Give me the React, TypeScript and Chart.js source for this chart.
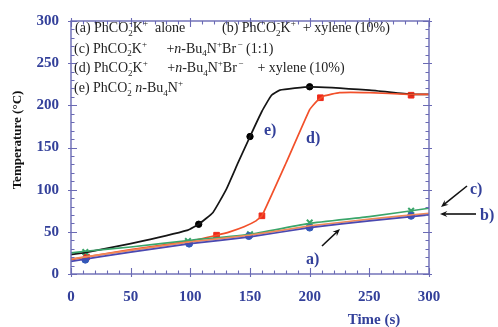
import React, { useEffect, useRef } from "react";
import { Chart, registerables } from "chart.js";

Chart.register(...registerables);

// ---- data ----
const xTicks = [0, 50, 100, 150, 200, 250, 300];
const yTicks = [0, 50, 100, 150, 200, 250, 300];

// (a) PhCO2-K+ alone (blue)
const aTime = [0, 50, 100, 150, 200, 250, 300];
const aTemp = [15, 26, 36, 44, 55, 63, 70];
const aMarkTime = [12, 99, 149, 200, 285];
const aMarkTemp = [17, 36, 45, 55, 69];

// (b) PhCO2-K+ + xylene (orange)
const bTime = [0, 50, 100, 150, 200, 250, 300];
const bTemp = [18, 28, 38, 46, 57, 65, 72];

// (c) + n-Bu4N+Br- (green)
const cTime = [0, 12, 50, 100, 150, 200, 250, 300];
const cTemp = [25, 27, 32, 40, 47, 60, 68, 78];
const cMarkTime = [12, 98, 150, 200, 285];
const cMarkTemp = [26, 39, 47, 61, 75];

// (d) + n-Bu4N+Br- + xylene (red)
const dTime = [0, 12, 50, 100, 122, 133, 145, 155, 160, 180, 200, 206, 212, 225, 250, 283, 300];
const dTemp = [17, 20, 29, 39, 46, 50, 56, 63, 69, 131, 195, 205, 211, 215, 215, 213, 213];
const dMarkTime = [13, 122, 160, 209, 285];
const dMarkTemp = [20, 46, 69, 209, 212];

// (e) PhCO2- n-Bu4N+ (black)
const eTime = [0, 14, 50, 98, 107, 119, 130, 140, 150, 160, 168, 175, 200, 250, 285, 300];
const eTemp = [23, 26, 36, 52, 59, 73, 100, 132, 163, 193, 212, 218, 222, 218, 213, 213];
const eMarkTime = [107, 150, 200];
const eMarkTemp = [59, 163, 222];

const pts = (xs: number[], ys: number[]) => xs.map((x, i) => ({ x, y: ys[i] }));

const FRAME = "#6a6ab4";
const LABEL = "#33409a";
const FONT = '"Liberation Serif", serif';

type Run = { t?: string; it?: boolean; sub?: string; sup?: string; gap?: number };

function drawRich(ctx: CanvasRenderingContext2D, x: number, y: number, runs: Run[], size: number) {
  let cx = x;
  const small = Math.round(size * 0.64);
  for (const r of runs) {
    if (r.gap) { cx += r.gap; continue; }
    if (r.t !== undefined) {
      ctx.font = `${r.it ? "italic " : ""}${size}px ${FONT}`;
      ctx.fillText(r.t, cx, y);
      cx += ctx.measureText(r.t).width;
      continue;
    }
    ctx.font = `${small}px ${FONT}`;
    let w = 0;
    if (r.sub) {
      ctx.fillText(r.sub, cx, y + size * 0.25);
      w = Math.max(w, ctx.measureText(r.sub).width);
    }
    if (r.sup) {
      const sx = r.sub ? cx + 1 : cx;
      ctx.fillText(r.sup, sx, y - size * 0.4);
      w = Math.max(w, ctx.measureText(r.sup).width + (r.sub ? 1 : 0));
    }
    cx += w;
  }
}

const CO2K: Run[] = [{ t: "PhCO" }, { sub: "2", sup: "-" }, { t: "K" }, { sup: "+" }];
const BU4: Run[] = [{ t: "+" }, { t: "n", it: true }, { t: "-Bu" }, { sub: "4" }, { t: "N" }, { sup: "+" }, { t: "Br" }, { gap: 1.5 }, { sup: "\u2212" }];

const legendLines: { x: number; y: number; runs: Run[] }[] = [
  { x: 75, y: 32, runs: [{ t: "(a) " }, ...CO2K, { t: "  alone" }] },
  { x: 222, y: 32, runs: [{ t: "(b) " }, ...CO2K, { t: "  + xylene (10%)" }] },
  { x: 74, y: 52.5, runs: [{ t: "(c) " }, ...CO2K, { t: "   " }, { gap: 9 }, ...BU4, { t: " (1:1)" }] },
  { x: 74, y: 72, runs: [{ t: "(d) " }, ...CO2K, { t: "   " }, { gap: 9 }, ...BU4, { t: "    + xylene (10%)" }] },
  { x: 74, y: 92, runs: [{ t: "(e) " }, { t: "PhCO" }, { sub: "2", sup: "-" }, { t: " " }, { t: "n", it: true }, { t: "-Bu" }, { sub: "4" }, { t: "N" }, { sup: "+" }] },
];

function arrow(ctx: CanvasRenderingContext2D, x1: number, y1: number, x2: number, y2: number) {
  const ang = Math.atan2(y2 - y1, x2 - x1);
  const hl = 8;
  ctx.strokeStyle = "#111";
  ctx.fillStyle = "#111";
  ctx.lineWidth = 1.6;
  ctx.beginPath();
  ctx.moveTo(x1, y1);
  ctx.lineTo(x2 - Math.cos(ang) * 4, y2 - Math.sin(ang) * 4);
  ctx.stroke();
  ctx.beginPath();
  ctx.moveTo(x2, y2);
  ctx.lineTo(x2 - hl * Math.cos(ang - 0.4), y2 - hl * Math.sin(ang - 0.4));
  ctx.lineTo(x2 - hl * 0.6 * Math.cos(ang), y2 - hl * 0.6 * Math.sin(ang));
  ctx.lineTo(x2 - hl * Math.cos(ang + 0.4), y2 - hl * Math.sin(ang + 0.4));
  ctx.closePath();
  ctx.fill();
}

const decor = {
  id: "decor",
  afterDraw(chart: any) {
    const ctx: CanvasRenderingContext2D = chart.ctx;
    const { left, right, top, bottom } = chart.chartArea;
    const xs = chart.scales.x;
    const ys = chart.scales.y;
    ctx.save();
    // frame
    ctx.strokeStyle = FRAME;
    ctx.lineWidth = 1.4;
    ctx.strokeRect(left, top, right - left, bottom - top);
    // ticks
    ctx.lineWidth = 1.1;
    ctx.beginPath();
    for (let v = 0; v <= 300; v += 10) {
      const major = v % 50 === 0;
      const L = major ? 6 : 3.5;
      const px = Math.round(xs.getPixelForValue(v)) + 0.5;
      ctx.moveTo(px, bottom + (major ? 3 : 0));
      ctx.lineTo(px, bottom - L);
      ctx.moveTo(px, top - (major ? 3 : 0));
      ctx.lineTo(px, top + L);
      const py = Math.round(ys.getPixelForValue(v)) + 0.5;
      ctx.moveTo(left - (major ? 3 : 0), py);
      ctx.lineTo(left + L, py);
      ctx.moveTo(right + (major ? 3 : 0), py);
      ctx.lineTo(right - L, py);
    }
    ctx.stroke();

    // legend text
    ctx.fillStyle = "#222";
    ctx.textBaseline = "alphabetic";
    ctx.textAlign = "left";
    for (const l of legendLines) drawRich(ctx, l.x, l.y, l.runs, 14);

    // annotations
    ctx.fillStyle = LABEL;
    ctx.font = `bold 16px ${FONT}`;
    ctx.textBaseline = "middle";
    ctx.fillText("e)", 264, 131);
    ctx.fillText("d)", 306, 139);
    ctx.fillText("a)", 306, 260);
    ctx.fillText("c)", 470, 190);
    ctx.fillText("b)", 480, 216);

    arrow(ctx, 322, 246, 340, 229);
    arrow(ctx, 467, 186, 441, 207);
    arrow(ctx, 476, 214, 440, 214);

    // axis titles
    ctx.fillStyle = LABEL;
    ctx.font = `bold 15px ${FONT}`;
    ctx.textAlign = "center";
    ctx.fillText("Time (s)", 374, 320);
    ctx.save();
    ctx.translate(18, 140);
    ctx.rotate(-Math.PI / 2);
    ctx.fillStyle = "#111";
    ctx.font = `bold 13px ${FONT}`;
    ctx.fillText("Temperature (\u00B0C)", 0, 0);
    ctx.restore();
    ctx.restore();
  },
};

export default function App() {
  const ref = useRef<HTMLCanvasElement>(null);
  useEffect(() => {
    document.body.style.margin = "0";
    const line = (label: string, xs: number[], ys: number[], color: string) => ({
      type: "line" as const,
      label,
      data: pts(xs, ys),
      borderColor: color,
      borderWidth: 1.7,
      pointRadius: 0,
      tension: 0.12,
      fill: false,
    });
    const marks = (label: string, xs: number[], ys: number[], color: string, style: string, r: number) => ({
      type: "line" as const,
      label,
      data: pts(xs, ys),
      showLine: false,
      pointStyle: style,
      pointRadius: r,
      pointBackgroundColor: color,
      pointBorderColor: color,
      pointBorderWidth: style === "crossRot" ? 2 : 1,
    });
    const chart = new Chart(ref.current!, {
      type: "line",
      data: {
        datasets: [
          line("a", aTime, aTemp, "#4a48b0"),
          line("b", bTime, bTemp, "#f08a5a"),
          line("c", cTime, cTemp, "#3aa56a"),
          line("d", dTime, dTemp, "#f2502a"),
          line("e", eTime, eTemp, "#151515"),
          marks("am", aMarkTime, aMarkTemp, "#3358b8", "circle", 3.5),
          marks("cm", cMarkTime, cMarkTemp, "#3aa56a", "crossRot", 4),
          marks("dm", dMarkTime, dMarkTemp, "#ee2a1a", "rect", 4),
          marks("em", eMarkTime, eMarkTemp, "#000", "circle", 3.2),
        ] as any,
      },
      options: {
        animation: false,
        responsive: true,
        maintainAspectRatio: false,
        layout: { padding: { left: 0, right: 69, top: 16, bottom: 0 } },
        plugins: { legend: { display: false }, tooltip: { enabled: false } },
        scales: {
          x: {
            type: "linear",
            min: 0,
            max: 300,
            afterFit: (s: any) => { s.height = 53; },
            afterBuildTicks: (s: any) => { s.ticks = xTicks.map((v) => ({ value: v })); },
            grid: { display: false, drawTicks: false },
            border: { display: false },
            ticks: { padding: 14, color: LABEL, font: { family: FONT, size: 15, weight: "bold" } },
          },
          y: {
            type: "linear",
            min: 0,
            max: 300,
            afterFit: (s: any) => { s.width = 71; },
            afterBuildTicks: (s: any) => { s.ticks = yTicks.map((v) => ({ value: v })); },
            grid: { display: false, drawTicks: false },
            border: { display: false },
            ticks: { padding: 12, color: LABEL, font: { family: FONT, size: 15, weight: "bold" } },
          },
        },
      } as any,
      plugins: [decor],
    });
    return () => chart.destroy();
  }, []);
  return (
    <div style={{ position: "absolute", left: 0, top: 0, width: 498, height: 327, background: "#fff" }}>
      <canvas ref={ref} />
    </div>
  );
}
